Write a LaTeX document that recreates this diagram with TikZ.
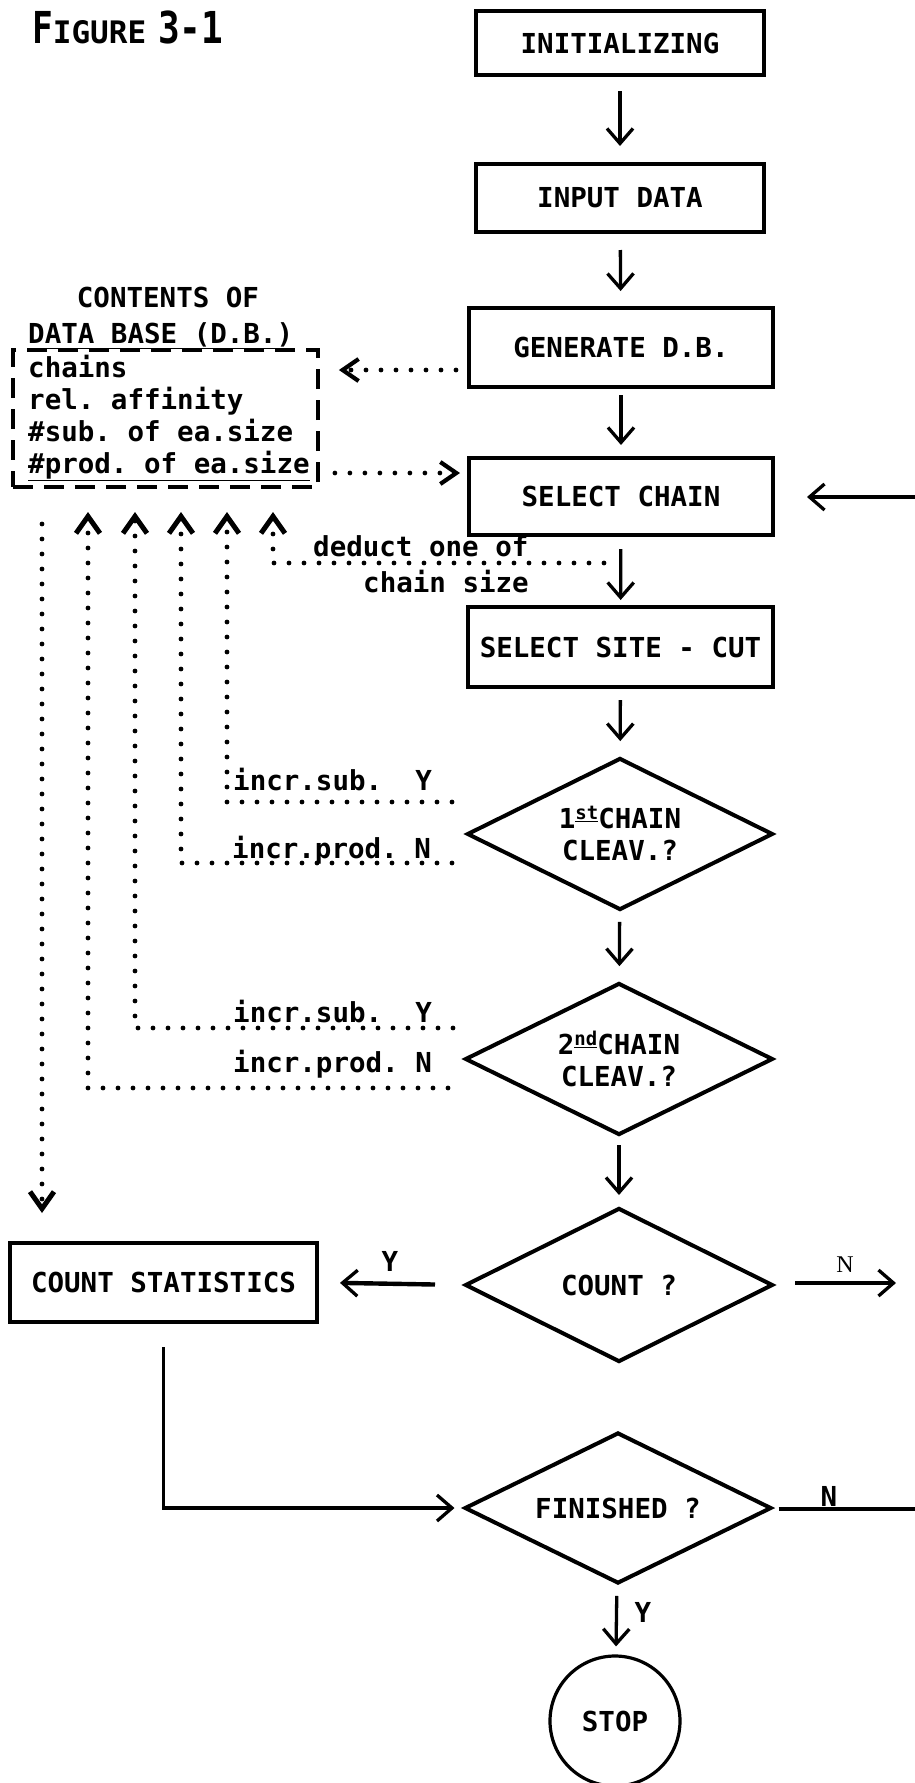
\documentclass[tikz,border=0pt]{standalone}
\usepackage{fontspec}
\setmainfont{DejaVu Sans Mono}[WordSpace={1,0,0}]
\newfontfamily\labelserif{Liberation Serif}
\usetikzlibrary{arrows.meta,shapes.geometric,calc}
\frenchspacing

\begin{document}
\begin{tikzpicture}[x=1pt,y=-1pt,
  every node/.style={font=\fontsize{27.5}{32}\selectfont\bfseries, inner sep=0pt},
  stepbox/.style={draw, rectangle, line width=4pt, align=center},
  decision/.style={draw, diamond, aspect=2, line width=4pt, align=center,
    minimum width=306pt, minimum height=152pt},
  dbbox/.style={draw, rectangle, line width=3.8pt, dash pattern=on 20pt off 11pt},
  flow/.style={line width=3.3pt, -{Straight Barb[length=15pt,width=26pt,line width=3.3pt]}},
  plain/.style={line width=3.3pt},
  dots/.style={line width=4.8pt, line cap=round, dash pattern=on 0pt off 15pt},
  dotflow/.style={dots, -{Straight Barb[length=16pt,width=22pt,line width=4.2pt]}},
  uptip/.style={dots, -{Straight Barb[length=17pt,width=24pt,line width=5pt]}},
]
\useasboundingbox (0,0) rectangle (915,1783);

% title
\node[anchor=base west] (title) at (32,43)
  {\scalebox{0.78}[1]{\fontsize{44}{44}\selectfont F}\fontsize{31}{31}\selectfont IGURE\hspace{12pt}\scalebox{0.82}[1]{\fontsize{44}{44}\selectfont 3-1}};

% main column
\node[stepbox, minimum width=288pt, minimum height=64pt] (init) at (620,43) {INITIALIZING};
\node[stepbox, minimum width=288pt, minimum height=68pt] (input) at (620,198) {INPUT DATA};
\node[stepbox, minimum width=304pt, minimum height=79pt] (gen) at (621,347.5) {GENERATE D.B.};
\node[stepbox, minimum width=304pt, minimum height=77pt] (sel) at (621,496.5) {SELECT CHAIN};
\node[stepbox, minimum width=305pt, minimum height=80pt] (site) at (620.5,647) {SELECT SITE - CUT};
\node[decision] (d1) at (620,834)
  {1\raisebox{9pt}{\fontsize{19}{19}\selectfont\underline{st}}CHAIN\\CLEAV.?};
\node[decision, minimum width=308pt] (d2) at (619,1059)
  {2\raisebox{9pt}{\fontsize{19}{19}\selectfont\underline{nd}}CHAIN\\CLEAV.?};
\node[decision, minimum width=308pt, minimum height=154pt] (cnt) at (619,1285) {COUNT ?};
\node[decision, minimum width=307pt, minimum height=151pt] (fin) at (618,1508) {FINISHED ?};
\node[draw, circle, line width=3.2pt, minimum size=130pt] (stop) at (615,1721) {STOP};
\node[stepbox, minimum width=307pt, minimum height=79pt] (stat) at (163.5,1282.5) {COUNT STATISTICS};

% data base contents
\node[anchor=base] (cont) at (168,307) {CONTENTS OF};
\node[anchor=base west] (dbtitle) at (28,343) {\underline{DATA BASE (D.B.)}};
\node[dbbox, minimum width=305pt, minimum height=137pt] (db) at (165.5,418.5) {};
\node[anchor=base west] (dbl1) at (28,377) {chains};
\node[anchor=base west] (dbl2) at (28,409) {rel. affinity};
\node[anchor=base west] (dbl3) at (28,441) {\#sub. of ea.size};
\node[anchor=base west] (dbl4) at (28,473) {\underline{\#prod. of ea.size}};

% main flow
\draw[flow, shorten <=14pt, shorten >=16pt] (init) -- (input);
\draw[flow, shorten <=16pt, shorten >=15pt] (input) -- (gen);
\draw[flow, shorten <=6pt, shorten >=11pt] (gen) -- (sel);
\draw[flow, shorten <=12pt, shorten >=5pt] (sel) -- (site);
\draw[flow, shorten <=11pt, shorten >=15pt] (site) -- (d1);
\draw[flow, shorten <=10pt, shorten >=15pt] (d1) -- (d2);
\draw[flow, shorten <=8pt, shorten >=11pt] (d2) -- (cnt);
\draw[flow, shorten <=11pt, shorten >=8pt] (fin) -- (stop);
\draw[flow, line width=4.4pt, shorten <=28pt, shorten >=21pt] (cnt.west) -- (stat.east);

\coordinate (cntout) at (896,1283);
\draw[flow, line width=4.2pt, shorten <=20pt] (cnt.east |- cntout) -- (cntout);
\coordinate (finout) at (915,1509);
\draw[plain, shorten <=5pt] (fin.east |- finout) -- (finout);
\coordinate (loopin) at (915,497);
\draw[flow, shorten >=32pt] (loopin) -- (sel.east |- loopin);
\draw[flow, shorten <=23pt, shorten >=8pt] (stat.south) -- (stat.south |- fin.west) -- (fin.west);

% branch labels
\node (ycnt) at (390,1261) {Y};
\node[font=\labelserif\fontsize{24}{24}\selectfont] (ncnt) at (845,1265) {N};
\node (nfin) at (829,1496) {N};
\node (yfin) at (643,1612) {Y};

% data base traffic
\draw[dotflow, shorten <=11pt, shorten >=19pt] ($(gen.west)+(0,22.5)$) -- ($(db.east)+(0,-48.5)$);
\draw[dotflow, shorten <=15pt, shorten >=7pt] ($(db.east)+(0,54.5)$) -- ($(sel.west)+(0,-23.5)$);

\coordinate (upS) at (42,524);
\coordinate (upA) at (88,512);
\coordinate (upB) at (135,512);
\coordinate (upC) at (181,512);
\coordinate (upD) at (227,512);
\coordinate (upE) at (273,512);

\coordinate (ded) at (604,563);
\coordinate (d1y) at ($(d1.west)+(-13,-32)$);
\coordinate (d1n) at ($(d1.west)+(-13,29)$);
\coordinate (d2y) at ($(d2.west)+(-10,-31)$);
\coordinate (d2n) at ($(d2.west)+(-15,29)$);

\draw[uptip] (ded) -- (ded -| upE) -- (upE);
\draw[uptip] (d1y) -- (d1y -| upD) -- (upD);
\draw[uptip] (d1n) -- (d1n -| upC) -- (upC);
\draw[uptip] (d2y) -- (d2y -| upB) -- (upB);
\draw[uptip] (d2n) -- (d2n -| upA) -- (upA);
\draw[uptip, shorten >=28pt] (upS) -- (upS |- stat.north);

\node[anchor=base west] (deda) at (313,556) {deduct one of};
\node[anchor=base west] (dedb) at (363,592) {chain size};
\node[anchor=base west] (s1) at (233,790) {incr.sub.\ \ Y};
\node[anchor=base west] (p1) at (232,858) {incr.prod. N};
\node[anchor=base west] (s2) at (233,1022) {incr.sub.\ \ Y};
\node[anchor=base west] (p2) at (233,1072) {incr.prod. N};
\end{tikzpicture}
\end{document}
